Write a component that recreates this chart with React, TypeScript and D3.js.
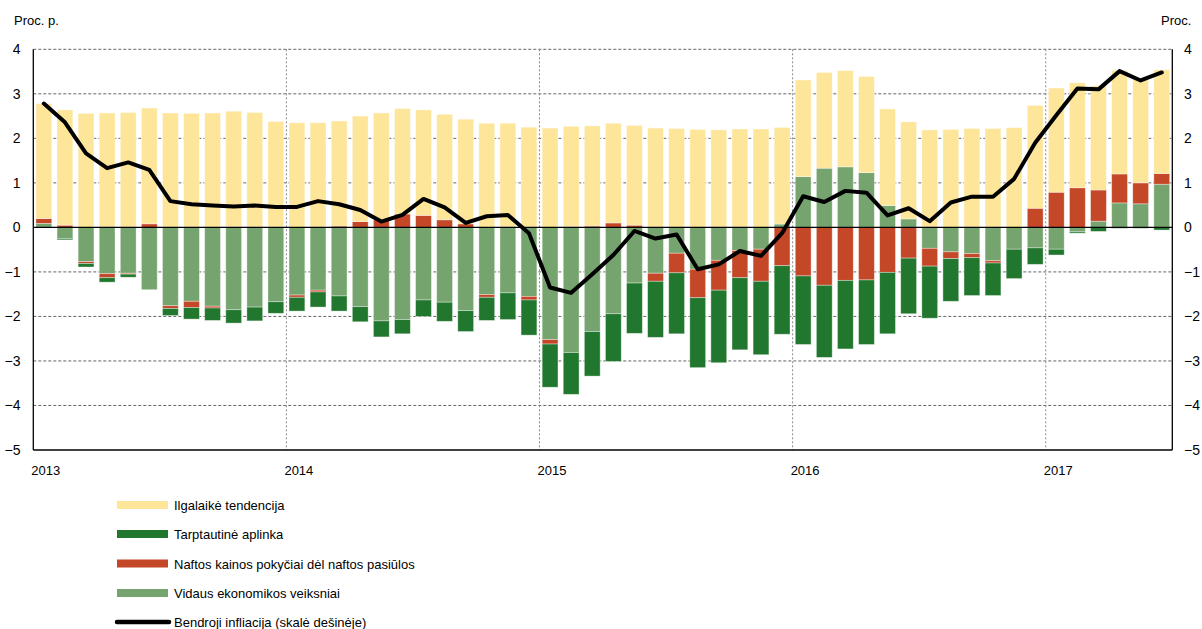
import React from "react";
import * as d3 from "d3";

const months: string[] = [];
for (let y = 2013; y <= 2017; y++) {
  for (let m = 1; m <= 12; m++) {
    if (y === 2017 && m > 6) break;
    months.push(`${y}-${String(m).padStart(2, "0")}`);
  }
}

// Ilgalaikė tendencija
const ilgalaike = [
  2.58, 2.59, 2.56, 2.57, 2.58, 2.6, 2.57, 2.56, 2.57, 2.59, 2.58, 2.37,
  2.35, 2.35, 2.36, 2.37, 2.4, 2.37, 2.37, 2.37, 2.35, 2.34, 2.34, 2.25,
  2.23, 2.25, 2.25, 2.24, 2.24, 2.23, 2.22, 2.2, 2.19, 2.21, 2.21, 2.17,
  2.17, 2.15, 2.16, 2.16, 2.17, 2.18, 2.19, 2.2, 2.22, 2.22, 2.24, 2.31,
  2.34, 2.36, 2.34, 2.32, 2.32, 2.33,
];
// Tarptautinė aplinka
const tarptautine = [
  0.0, -0.03, -0.08, -0.1, -0.07, 0.0, -0.16, -0.26, -0.28, -0.3, -0.31, -0.26,
  -0.31, -0.34, -0.34, -0.34, -0.36, -0.32, -0.37, -0.43, -0.47, -0.52, -0.6, -0.79,
  -0.97, -0.94, -1.0, -1.07, -1.13, -1.26, -1.37, -1.57, -1.63, -1.62, -1.65, -1.54,
  -1.54, -1.62, -1.54, -1.45, -1.38, -1.25, -1.17, -0.96, -0.85, -0.73, -0.66, -0.37,
  -0.13, -0.03, -0.09, -0.02, -0.02, -0.06,
];
// Naftos kainos pokyčiai dėl naftos pasiūlos
const nafta = [
  0.11, 0.05, -0.04, -0.09, -0.02, 0.08, -0.06, -0.14, -0.04, 0.02, 0.0, 0.01,
  -0.05, -0.04, 0.03, 0.13, 0.17, 0.3, 0.27, 0.17, 0.08, -0.06, 0.0, -0.08,
  -0.1, 0.02, 0.03, 0.1, 0.05, -0.18, -0.44, -0.64, -0.67, -0.61, -0.72, -0.86,
  -1.09, -1.3, -1.19, -1.18, -1.01, -0.69, -0.4, -0.15, -0.09, -0.05, 0.0, 0.43,
  0.79, 0.89, 0.7, 0.65, 0.47, 0.24,
];
// Vidaus ekonomikos veiksniai
const vidaus = [
  0.09, -0.25, -0.77, -1.04, -1.03, -1.4, -1.76, -1.66, -1.77, -1.85, -1.79, -1.67,
  -1.52, -1.41, -1.54, -1.78, -2.1, -2.07, -1.63, -1.68, -1.87, -1.51, -1.47, -1.55,
  -2.52, -2.81, -2.34, -1.94, -1.25, -1.03, -0.58, -0.94, -0.74, -0.52, -0.49, 0.075,
  1.14, 1.33, 1.36, 1.23, 0.49, 0.19, -0.47, -0.55, -0.59, -0.75, -0.49, -0.46,
  -0.49, -0.1, 0.14, 0.55, 0.53, 0.97,
];
// Bendroji infliacija
const infliacija = [
  2.78, 2.36, 1.66, 1.33, 1.46, 1.29, 0.59, 0.52, 0.49, 0.47, 0.49, 0.46,
  0.46, 0.59, 0.52, 0.39, 0.13, 0.28, 0.64, 0.45, 0.1, 0.25, 0.28, -0.13,
  -1.35, -1.47, -1.05, -0.62, -0.08, -0.25, -0.16, -0.94, -0.83, -0.53, -0.64, -0.13,
  0.7, 0.57, 0.82, 0.78, 0.27, 0.43, 0.14, 0.56, 0.69, 0.69, 1.09, 1.9,
  2.52, 3.12, 3.1, 3.51, 3.3, 3.48,
];

const yTicks = [4, 3, 2, 1, 0, -1, -2, -3, -4, -5];
const years = ["2013", "2014", "2015", "2016", "2017"];

const seriesKeys = ["vidaus", "nafta", "tarpt", "ilg"];
const seriesColors: Record<string, string> = {
  ilg: "#fde59a",
  tarpt: "#22772f",
  nafta: "#c44727",
  vidaus: "#76a46e",
};
const legendItems = [
  { label: "Ilgalaikė tendencija", key: "ilg" },
  { label: "Tarptautinė aplinka", key: "tarpt" },
  { label: "Naftos kainos pokyčiai dėl naftos pasiūlos", key: "nafta" },
  { label: "Vidaus ekonomikos veiksniai", key: "vidaus" },
  { label: "Bendroji infliacija (skalė dešinėje)", key: "line" },
];

const W = 1202;
const H = 629;
const left = 33.3;
const right = 1172.3;
const top = 49.3;
const bottom = 450;
const FONT = "'Liberation Sans', Arial, sans-serif";

function fmt(v: number) {
  return v < 0 ? "\u2212" + Math.abs(v) : String(v);
}

export default function App() {
  const x = d3
    .scaleBand<string>()
    .domain(months)
    .range([left, right])
    .paddingInner(0.25)
    .paddingOuter(0.125);
  const y = d3.scaleLinear().domain([-5, 4]).range([bottom, top]);
  const step = x.step();

  const table = months.map((m, i) => ({
    month: m,
    ilg: ilgalaike[i],
    tarpt: tarptautine[i],
    nafta: nafta[i],
    vidaus: vidaus[i],
  }));
  const stacked = d3
    .stack<any>()
    .keys(seriesKeys)
    .offset(d3.stackOffsetDiverging)(table);

  const line = d3
    .line<number>()
    .x((_, i) => (x(months[i]) as number) + x.bandwidth() / 2)
    .y((d) => y(d));

  const yearX = (yr: string) => (x(`${yr}-01`) as number) - step * 0.125;

  return (
    <svg
      width={W}
      height={H}
      style={{ position: "absolute", left: 0, top: 0, background: "#fff" }}
      fontFamily={FONT}
    >
      {/* horizontal grid */}
      {yTicks
        .filter((t) => t !== 0 && t !== -5)
        .map((t) => (
          <line
            key={"h" + t}
            x1={left}
            x2={right}
            y1={y(t)}
            y2={y(t)}
            stroke="#666"
            strokeWidth={1}
            strokeDasharray="3,2"
          />
        ))}
      {/* vertical year grid */}
      {years.slice(1).map((yr) => (
        <line
          key={"v" + yr}
          x1={yearX(yr)}
          x2={yearX(yr)}
          y1={top}
          y2={bottom}
          stroke="#888"
          strokeWidth={1}
          strokeDasharray="2,2"
        />
      ))}
      {/* bars */}
      {stacked.map((s) => (
        <g key={s.key} fill={seriesColors[s.key]}>
          {s.map((d, i) => {
            const y0 = y(d[0]);
            const y1 = y(d[1]);
            const h = Math.abs(y0 - y1);
            if (h < 0.01) return null;
            return (
              <rect
                key={i}
                x={x(months[i])}
                y={Math.min(y0, y1)}
                width={x.bandwidth()}
                height={h}
                stroke="#ffffff"
                strokeOpacity={0.45}
                strokeWidth={0.8}
              />
            );
          })}
        </g>
      ))}
      {/* zero line */}
      <line x1={left} x2={right} y1={y(0)} y2={y(0)} stroke="#000" strokeWidth={1.3} />
      {/* axes frame */}
      <line x1={left} x2={left} y1={top} y2={bottom} stroke="#000" strokeWidth={1.3} />
      <line x1={right} x2={right} y1={top} y2={bottom} stroke="#000" strokeWidth={1.3} />
      <line x1={left} x2={right} y1={bottom} y2={bottom} stroke="#000" strokeWidth={1.3} />
      {/* inflation line */}
      <path
        d={line(infliacija) || ""}
        fill="none"
        stroke="#000"
        strokeWidth={4}
        strokeLinejoin="round"
        strokeLinecap="round"
      />
      {/* y labels */}
      {yTicks.map((t) => (
        <g key={"yl" + t} fontSize={14} fill="#000">
          <text x={20.5} y={y(t) + 5} textAnchor="end">
            {fmt(t)}
          </text>
          <text x={1184} y={y(t) + 5} textAnchor="start">
            {fmt(t)}
          </text>
        </g>
      ))}
      <text x={14} y={25} fontSize={13}>
        Proc. p.
      </text>
      <text x={1161} y={25} fontSize={13}>
        Proc.
      </text>
      {/* x labels */}
      {years.map((yr) => (
        <text key={"xl" + yr} x={yearX(yr) - 2} y={475} fontSize={13}>
          {yr}
        </text>
      ))}
      {/* legend */}
      {legendItems.map((it, i) => {
        const cy = [505, 534, 563.5, 593, 622][i];
        return (
          <g key={it.key}>
            {it.key === "line" ? (
              <line
                x1={117}
                x2={169}
                y1={cy}
                y2={cy}
                stroke="#000"
                strokeWidth={4.5}
                strokeLinecap="round"
              />
            ) : (
              <rect x={117} y={cy - 4} width={51} height={8} fill={seriesColors[it.key]} />
            )}
            <text x={174} y={cy + 5} fontSize={13}>
              {it.label}
            </text>
          </g>
        );
      })}
    </svg>
  );
}
